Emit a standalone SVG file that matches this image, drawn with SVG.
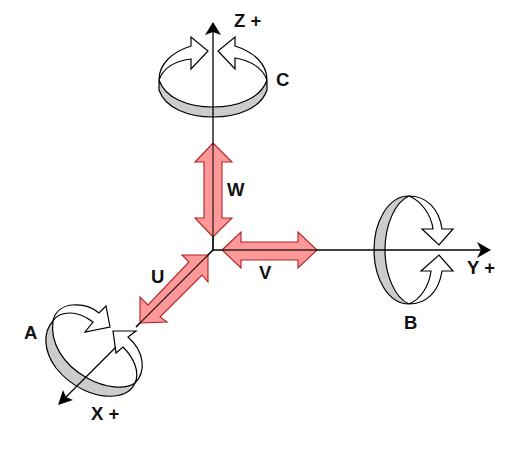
<svg xmlns="http://www.w3.org/2000/svg" width="512" height="452" viewBox="0 0 512 452">
<style>
text{font-family:"Liberation Sans",Arial,sans-serif;font-weight:700;font-size:18.5px;fill:#111}
.ax{fill:none;stroke:#000;stroke-width:1.3}
.head{fill:#000;stroke:none}
.w{fill:#fff;stroke:#000;stroke-width:1.2;stroke-linejoin:miter}
.g{fill:#ccc;stroke:#000;stroke-width:1.2}
.r{fill:#ff9999;stroke:#b02020;stroke-width:1.1;stroke-linejoin:miter}
.n{fill:none;stroke:#000;stroke-width:1.2}
</style>
<rect width="512" height="452" fill="#fff"/>
<g id="ring-c">
<path class="g" d="M159 80C165 98 188 107 213 107C238 107 261 98 267 80V90C261 108 238 117 213 117C188 117 165 108 159 90Z"/>
<path class="w" d="M159 80C159 64 172 52 191 46V37L208 51L191 69V59C174 61 163 69 159 80Z"/>
<path class="w" d="M267 80C267 64 254 52 235 46V37L218 51L235 69V58C252 61 263 69 267 80Z"/>
<text x="276" y="86">C</text>
</g>
<g id="ring-b">
<path class="g" d="M409 196C388 196 374 222 374 250C374 278 388 304 409 304C395 298 385 275 385 250C385 225 395 202 409 196Z"/>
<path class="w" d="M409 196C426 196 439 208 442 229H453L439 245L422 229H433C431 214 421 201 409 196Z"/>
<path class="w" d="M409 304C426 304 439 292 442 271H453L439 255L421 271H431C429 286 421 299 409 304Z"/>
<text x="404" y="329">B</text>
</g>
<g id="ring-a">
<path class="g" d="M53 321C43 332 43 350 56 368C72 388 96 398 114 396C125 395 132 390 135 383C125 390 105 388 87 378C62 364 50 342 53 321Z"/>
<path class="w" d="M53 321C55 312 62 306 72 305C82 304 92 307 99 313L106 306L110 327L85 332L93 322C85 316 78 313 70 313C62 313 56 316 53 321Z"/>
<path class="w" d="M135 383C146 372 145 352 128 337L136 331L113 331L116 353L123 347C134 358 140 372 135 383Z"/>
<text x="24" y="339">A</text>
</g>
<g id="connectors">
<path class="ax" d="M213 250V30"/>
<path class="head" d="M213 22L221 35L213 32L205 35Z"/>
<path class="ax" d="M213 250H484"/>
<path class="head" d="M491 250L477 242L481 250L477 258Z"/>
<path class="ax" d="M213 250L136 327"/>
<path class="ax" d="M116 347L63 400"/>
<path class="head" d="M58 405L73 400L66 397L63 390Z"/>
</g>
<g id="axis-z"><text x="234" y="27">Z +</text></g>
<g id="axis-y"><text x="467" y="274">Y +</text></g>
<g id="axis-x"><text x="91" y="420">X +</text></g>
<g id="arrow-w">
<path class="r" d="M213 143L232 162H222V218H232L213 237L195 218H204V162H195Z"/>
<path class="ax" d="M213 143V250" stroke-opacity=".8"/>
<text x="227" y="196">W</text>
</g>
<g id="arrow-v">
<path class="r" d="M222 250L241 232V242H298V232L317 250L298 268V260H241V268Z"/>
<path class="ax" d="M222 250H317" stroke-opacity=".8"/>
<text x="259" y="279">V</text>
</g>
<g id="arrow-u">
<path class="r" d="M208 255V282L202 275L160 317L167 322L140 323V297L148 305L189 262L182 255Z"/>
<path class="ax" d="M213 250L136 327" stroke-opacity=".8"/>
<text x="151" y="283">U</text>
</g>
</svg>
